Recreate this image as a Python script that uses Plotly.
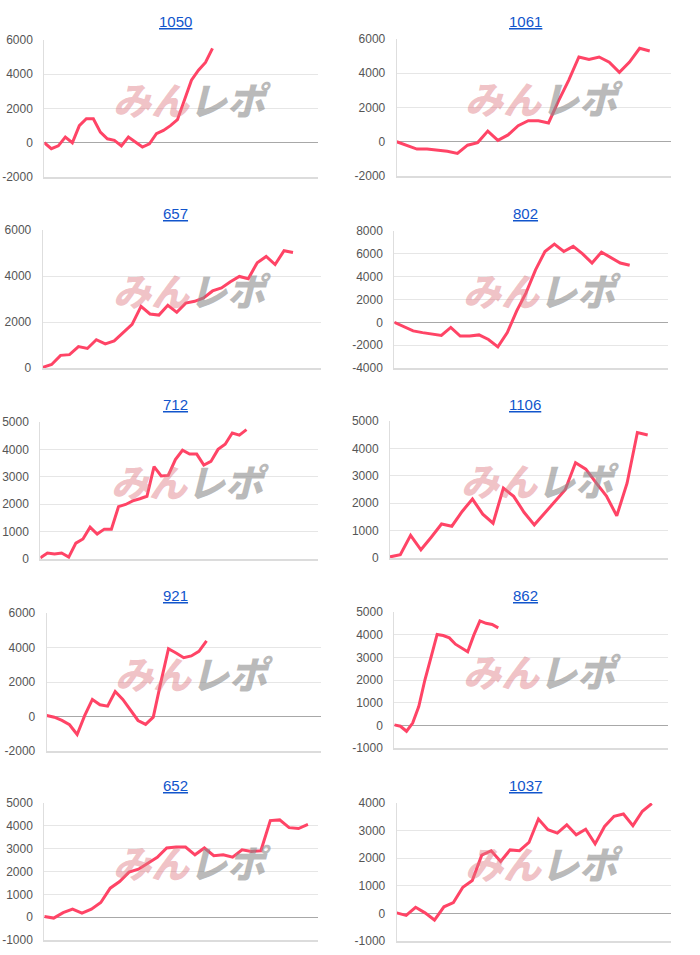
import plotly.graph_objects as go

W, H = 700, 955

titles = ["1050", "1061", "657", "802", "712", "1106", "921", "862", "652", "1037"]

y_1050 = [0, -350, -180, 330, 0, 1000, 1400, 1400, 620, 230, 140, -180, 330, 40, -250,
          -60, 530, 720, 1000, 1350, 2500, 3650, 4240, 4690, 5510]
y_1061 = [0, -220, -430, -430, -500, -560, -680, -200, -50, 620, 80, 400, 940, 1230, 1230,
          1100, 2400, 3600, 4950, 4800, 4950, 4650, 4050, 4650, 5460, 5300]
y_657 = [30, 150, 550, 580, 930, 850, 1230, 1050, 1180, 1550, 1900, 2680, 2350, 2300, 2730,
         2420, 2820, 2900, 3050, 3350, 3480, 3750, 3980, 3880, 4580, 4850, 4500, 5100, 5020]
y_802 = [0, -350, -750, -900, -1050, -1150, -450, -1200, -1200, -1100, -1500, -2150, -900,
         1000, 2600, 4600, 6200, 6850, 6200, 6650, 6000, 5200, 6150, 5700, 5200, 5000]
y_712 = [40, 220, 180, 220, 70, 580, 730, 1160, 910, 1090, 1090, 1910, 1990, 2120, 2200, 2290,
         3370, 3030, 3050, 3630, 3970, 3830, 3830, 3430, 3560, 4000, 4190, 4600, 4520, 4720]
y_1106 = [40, 120, 830, 300, 760, 1240, 1160, 1700, 2150, 1600, 1270, 2550, 2250, 1670, 1210,
          1640, 2090, 2490, 3480, 3240, 2740, 2260, 1540, 2730, 4580, 4490]
y_921 = [60, -40, -230, -480, -1040, 60, 990, 680, 600, 1450, 990, 350, -230, -460, -40,
         1990, 3930, 3680, 3410, 3510, 3780, 4380]
y_862 = [20, -40, -260, 100, 830, 2000, 3000, 4010, 3960, 3860, 3580, 3420, 3250, 3980, 4610,
         4500, 4450, 4300]
y_652 = [30, -40, 200, 350, 180, 350, 640, 1270, 1560, 1970, 2100, 2370, 2620, 3030, 3070,
         3070, 2730, 3030, 2690, 2730, 2630, 2950, 2880, 2910, 4230, 4260, 3920, 3880, 4060]
y_1037 = [20, -70, 220, 20, -240, 240, 390, 950, 1190, 2110, 2270, 1880, 2300, 2270, 2570,
          3420, 3030, 2910, 3210, 2850, 3050, 2520, 3150, 3520, 3600, 3180, 3700, 3980]

series = [y_1050, y_1061, y_657, y_802, y_712, y_1106, y_921, y_862, y_652, y_1037]

# horizontal axis length (in sample steps) for each chart
x_span = [39.1, 27.1, 31.1, 29.1, 39.1, 27.0, 36.0, 44.8, 29.1, 29.0]
y_min = [-2000, -2000, 0, -4000, 0, 0, -2000, -1000, -1000, -1000]
y_max = [6000, 6000, 6000, 8000, 5000, 5000, 6000, 5000, 5000, 4000]
y_step = [2000, 2000, 2000, 2000, 1000, 1000, 2000, 1000, 1000, 1000]

# plot-area boxes in pixels: left, right, top, bottom
boxes = [
    (44.3, 318.3, 40, 177), (396.7, 671, 39, 176),
    (42.7, 320.7, 230, 368), (394.3, 668.3, 231, 368),
    (40.3, 318.3, 422, 559), (390, 668.3, 421, 558),
    (46.7, 320.7, 613, 751), (394.3, 668.3, 612, 748),
    (44.3, 318.3, 803, 940), (396.7, 670.7, 803, 941),
]
title_y = [22, 213, 404, 595, 785]

LINE = "#ff4466"
fig = go.Figure()
annotations = []
for i, (name, ys) in enumerate(zip(titles, series)):
    n = i + 1
    xa = "x" if n == 1 else f"x{n}"
    ya = "y" if n == 1 else f"y{n}"
    fig.add_trace(go.Scatter(
        x=list(range(len(ys))), y=ys, xaxis=xa, yaxis=ya, mode="lines",
        line=dict(color=LINE, width=3), hoverinfo="skip", showlegend=False))
    L, R, T, B = boxes[i]
    xkey = "xaxis" if n == 1 else f"xaxis{n}"
    ykey = "yaxis" if n == 1 else f"yaxis{n}"
    tv = list(range(y_min[i], y_max[i] + 1, y_step[i]))
    fig.layout[xkey] = dict(
        domain=[L / W, R / W], range=[0, x_span[i]], anchor=ya, automargin=False,
        showgrid=False, zeroline=False, showticklabels=False, ticks="",
        showline=True, linecolor="#dcdcdc", linewidth=1.5, fixedrange=True)
    fig.layout[ykey] = dict(
        domain=[1 - B / H, 1 - T / H], range=[y_min[i], y_max[i]], anchor=xa,
        automargin=False, tickmode="array", tickvals=tv, ticktext=[str(v) for v in tv],
        showgrid=True, gridcolor="#e6e6e6", gridwidth=1,
        zeroline=True, zerolinecolor="#a8a8a8", zerolinewidth=1,
        showline=True, linecolor="#dedede", linewidth=1,
        ticks="outside", ticklen=8, tickcolor="rgba(0,0,0,0)",
        tickfont=dict(family="Liberation Sans, Arial", size=12, color="#555555"),
        fixedrange=True)
    col = i % 2
    row = i // 2
    annotations.append(dict(
        text=f'<span style="text-decoration:underline">{name}</span>',
        xref="paper", yref="paper", x=(175 + 350 * col) / W, y=1 - title_y[row] / H,
        xanchor="center", yanchor="middle", showarrow=False,
        font=dict(family="Liberation Sans, Arial", size=15, color="#1155cc")))
    # watermark
    cx = (L + R) / 2 + 11
    cy = (T + B) / 2 - 10
    annotations.append(dict(
        text='<span style="color:rgba(222,120,128,0.45)">みん</span>'
             '<span style="color:rgba(140,140,140,0.6)">レポ</span>',
        xref="paper", yref="paper", x=cx / W, y=1 - cy / H,
        xanchor="center", yanchor="middle", showarrow=False,
        font=dict(family="Noto Sans CJK JP", size=38, weight=900, style="italic")))

fig.update_layout(
    width=W, height=H, margin=dict(l=0, r=0, t=0, b=0, autoexpand=False),
    paper_bgcolor="white", plot_bgcolor="white",
    annotations=annotations, showlegend=False)

fig.write_html("out.html", config={"displayModeBar": False})
